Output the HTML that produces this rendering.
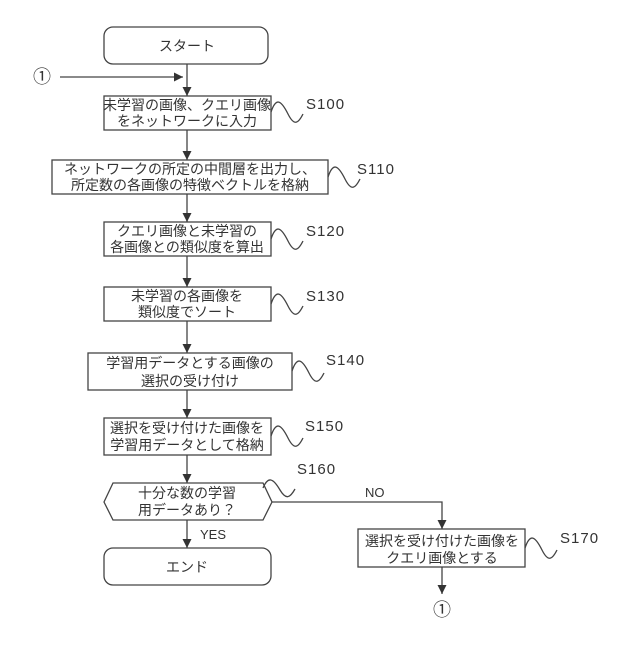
<!DOCTYPE html>
<html><head><meta charset="utf-8"><style>
body{margin:0;background:#fff}
svg text{font-family:"Liberation Sans","Noto Sans CJK JP",sans-serif;fill:#333}
.j{font-size:14px;text-anchor:middle}
.s{font-size:15px;letter-spacing:1px}
</style></head><body>
<svg width="640" height="640" viewBox="0 0 640 640" xmlns="http://www.w3.org/2000/svg">
<defs><marker id="a" viewBox="0 0 10 10" refX="10" refY="5" markerWidth="9" markerHeight="9" markerUnits="userSpaceOnUse" orient="auto"><path d="M0,0L10,5L0,10z" fill="#333"/></marker></defs>
<g fill="none" stroke="#444" stroke-width="1.3">
<rect x="104" y="27" width="164" height="37" rx="9"/>
<rect x="104" y="96" width="167" height="34"/>
<rect x="52" y="160" width="276" height="34"/>
<rect x="104" y="222" width="167" height="34"/>
<rect x="104" y="287" width="167" height="34"/>
<rect x="88" y="353" width="204" height="37"/>
<rect x="104" y="418" width="167" height="37"/>
<path d="M104,502L113,483L263,483L272,502L263,520L113,520Z"/>
<rect x="104" y="548" width="167" height="37" rx="9"/>
<rect x="358" y="529" width="167" height="38"/>
<path d="M187,64V96" marker-end="url(#a)"/>
<path d="M60,77H183" marker-end="url(#a)"/>
<path d="M187,130V160" marker-end="url(#a)"/>
<path d="M187,194V222" marker-end="url(#a)"/>
<path d="M187,256V287" marker-end="url(#a)"/>
<path d="M187,321V353" marker-end="url(#a)"/>
<path d="M187,390V418" marker-end="url(#a)"/>
<path d="M187,455V483" marker-end="url(#a)"/>
<path d="M187,520V548" marker-end="url(#a)"/>
<path d="M272,502H442V529" marker-end="url(#a)"/>
<path d="M442,567V594" marker-end="url(#a)"/>
<path d="M271,112C276,97 281,100 288,114C294,126 298,124 303,114"/>
<path d="M328,177C333,162 338,165 345,179C351,191 355,189 360,179"/>
<path d="M271,239C276,224 281,227 288,241C294,253 298,251 303,241"/>
<path d="M271,304C276,289 281,292 288,306C294,318 298,316 303,306"/>
<path d="M292,371C297,356 302,359 309,373C315,385 319,383 324,373"/>
<path d="M271,436C276,421 281,424 288,438C294,450 298,448 303,438"/>
<path d="M263,488C268,476 273,478 280,490C286,500 290,498 295,489"/>
<path d="M525,548C530,533 535,536 542,550C548,562 552,560 557,550"/>
</g>
<text class="j" x="187" y="51">スタート</text>
<text x="42" y="83" font-size="18" text-anchor="middle">①</text>
<text class="j" x="187" y="110">未学習の画像、クエリ画像</text>
<text class="j" x="187" y="126">をネットワークに入力</text>
<text class="j" x="190" y="174">ネットワークの所定の中間層を出力し、</text>
<text class="j" x="190" y="190">所定数の各画像の特徴ベクトルを格納</text>
<text class="j" x="187" y="236">クエリ画像と未学習の</text>
<text class="j" x="187" y="252">各画像との類似度を算出</text>
<text class="j" x="187" y="301">未学習の各画像を</text>
<text class="j" x="187" y="317">類似度でソート</text>
<text class="j" x="190" y="368">学習用データとする画像の</text>
<text class="j" x="190" y="386">選択の受け付け</text>
<text class="j" x="187" y="433">選択を受け付けた画像を</text>
<text class="j" x="187" y="450">学習用データとして格納</text>
<text class="j" x="187" y="498">十分な数の学習</text>
<text class="j" x="187" y="515">用データあり？</text>
<text class="j" x="187" y="572">エンド</text>
<text class="j" x="442" y="546">選択を受け付けた画像を</text>
<text class="j" x="442" y="563">クエリ画像とする</text>
<text x="442" y="616" font-size="18" text-anchor="middle">①</text>
<text class="s" x="306" y="109">S100</text>
<text class="s" x="357" y="174">S110</text>
<text class="s" x="306" y="236">S120</text>
<text class="s" x="306" y="301">S130</text>
<text class="s" x="326" y="365">S140</text>
<text class="s" x="305" y="431">S150</text>
<text class="s" x="297" y="474">S160</text>
<text class="s" x="560" y="543">S170</text>
<text x="365" y="497" font-size="13">NO</text>
<text x="200" y="539" font-size="13">YES</text>
</svg>
</body></html>
